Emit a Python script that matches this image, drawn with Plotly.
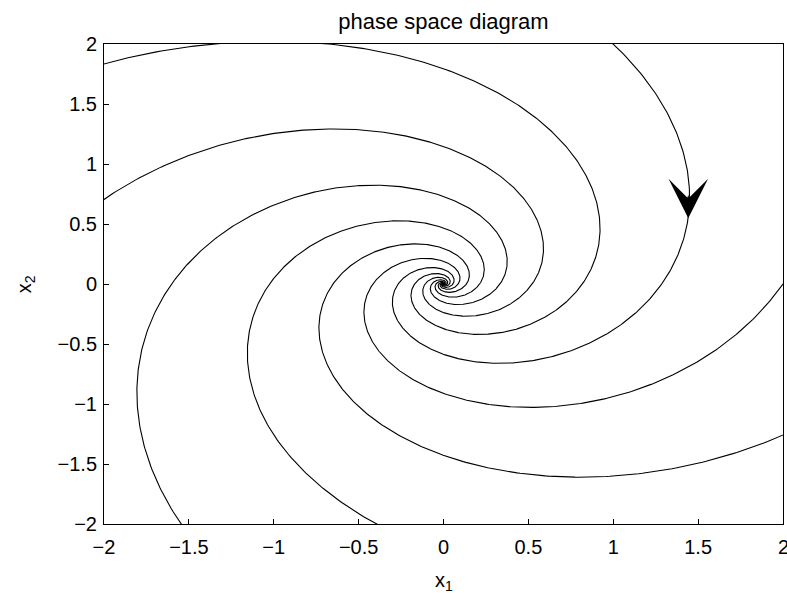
import numpy as np
import plotly.graph_objects as go

# Linear system dx/dt = A x  (stable focus, clockwise)
A_MATRIX = [[-0.5, 1.0],
            [-1.0, -0.5]]

# Starting points of the trajectories (where each curve enters the box)
START_X1 = [-2.0, 1.0, -2.0, -1.546, -0.395, 2.0, 2.0]
START_X2 = [1.835, 2.0, 0.706, -2.0, -2.0, 0.0, -1.26]

X_TICKS = [-2, -1.5, -1, -0.5, 0, 0.5, 1, 1.5, 2]
Y_TICKS = [-2, -1.5, -1, -0.5, 0, 0.5, 1, 1.5, 2]

# direction arrow on the trajectory starting at (1, 2)
ARROW_TIP = [1.442, 0.547]
ARROW_TAIL = [1.442, 0.75]

A = np.array(A_MATRIX)


def run(x, T, h):
    n = int(abs(T) / abs(h))
    pts = [x]
    for _ in range(n):
        k1 = A @ x
        k2 = A @ (x + h / 2 * k1)
        k3 = A @ (x + h / 2 * k2)
        k4 = A @ (x + h * k3)
        x = x + h / 6 * (k1 + 2 * k2 + 2 * k3 + k4)
        pts.append(x)
    return np.array(pts)


def trajectory(x0, t_back=0.4, t_fwd=20.0, dt=0.01):
    x0 = np.array(x0, dtype=float)
    back = run(x0, t_back, -dt)[::-1]
    fwd = run(x0, t_fwd, dt)
    return np.vstack([back[:-1], fwd])


fig = go.Figure()
for a, b in zip(START_X1, START_X2):
    p = trajectory([a, b])
    fig.add_trace(go.Scatter(x=p[:, 0], y=p[:, 1], mode="lines",
                             line=dict(color="black", width=1.1),
                             showlegend=False, hoverinfo="skip"))

fig.add_annotation(x=ARROW_TIP[0], y=ARROW_TIP[1], ax=ARROW_TAIL[0], ay=ARROW_TAIL[1],
                   xref="x", yref="y", axref="x", ayref="y", text="",
                   showarrow=True, arrowhead=3, arrowsize=6.6, arrowwidth=1,
                   arrowcolor="black", standoff=0)

FONT = "Liberation Sans, Arial, sans-serif"
TXT = dict(family=FONT, size=20, color="black")

# axis titles
fig.add_annotation(text="x<sub>1</sub>", xref="paper", yref="paper",
                   x=0.5, y=-0.119, xanchor="center", yanchor="middle",
                   showarrow=False, font=TXT)
fig.add_annotation(text="x<sub>2</sub>", xref="paper", yref="paper",
                   x=-0.116, y=0.5, xanchor="center", yanchor="middle",
                   textangle=-90, showarrow=False, font=TXT)
# last x tick label, cut by the figure edge as in the original
fig.add_annotation(text=str(X_TICKS[-1]), xref="x", yref="paper",
                   x=X_TICKS[-1], y=-0.048, xanchor="center", yanchor="middle",
                   showarrow=False, font=TXT)

axis_common = dict(range=[-2, 2], showline=True, mirror=True, linecolor="black",
                   linewidth=1, ticks="inside", ticklen=5, tickcolor="black",
                   showgrid=False, zeroline=False, tickfont=TXT)

W, H = 787, 593
fig.update_layout(
    width=W, height=H,
    margin=dict(l=104, r=4, t=44, b=69),
    paper_bgcolor="white", plot_bgcolor="white",
    title=dict(text="phase space diagram", x=443.5 / W, xanchor="center",
               yref="container", y=1 - 21 / H, yanchor="middle",
               font=dict(family=FONT, size=22, color="black")),
    xaxis=dict(tickvals=X_TICKS, ticklabelstandoff=5, **axis_common),
    yaxis=dict(tickvals=Y_TICKS, ticklabelstandoff=2, **axis_common),
)

fig.write_html(
    "out.html",
    config={"displayModeBar": False},
    post_script="document.body.style.margin='0';document.body.style.overflow='hidden';",
)
